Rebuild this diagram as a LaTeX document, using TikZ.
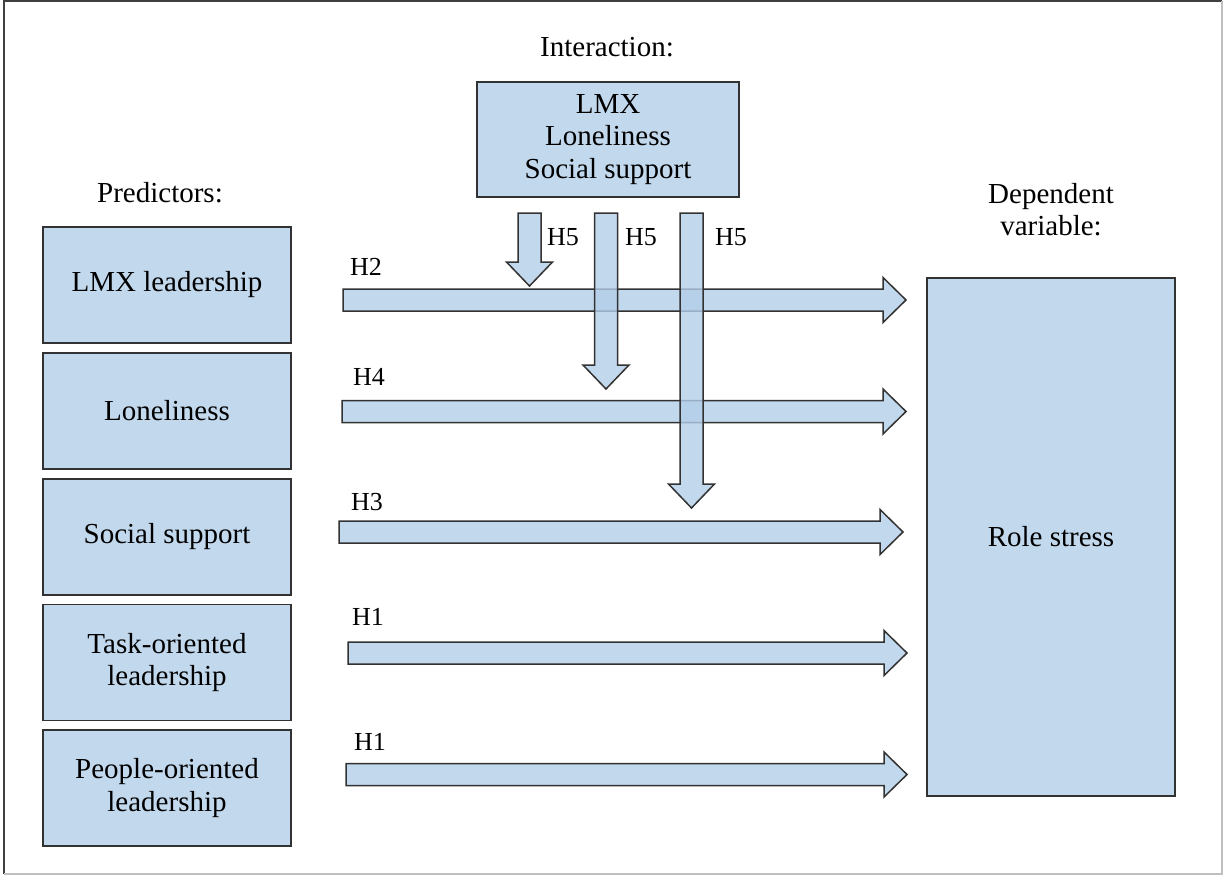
\documentclass[tikz,border=0pt]{standalone}
\usepackage{fontspec}
\setmainfont{Liberation Serif}
\newfontfamily\timesfam{Liberation Serif}
\usetikzlibrary{calc}
\definecolor{boxfill}{RGB}{194,216,237}
\definecolor{arrfill}{RGB}{179,206,233}
\definecolor{edgec}{RGB}{50,50,50}
\newcommand\fsmain{\timesfam\fontsize{29}{32.5}\selectfont}
\newcommand\fslabel{\timesfam\fontsize{26}{30}\selectfont}
\newcommand\hblockarrow[2]{\path[barrow] let \p1=(#1), \p2=(#2) in
  (\x1,\y1+11pt) -- (\x2-23pt,\y1+11pt) -- (\x2-23pt,\y1+22.5pt) -- (\x2,\y1)
  -- (\x2-23pt,\y1-22.5pt) -- (\x2-23pt,\y1-11pt) -- (\x1,\y1-11pt) -- cycle;}
\newcommand\vblockarrow[2]{\path[barrow] let \p1=(#1), \p2=(#2) in
  (\x1-11.5pt,\y1) -- (\x1-11.5pt,\y2+24pt) -- (\x1-23pt,\y2+24pt) -- (\x2,\y2)
  -- (\x1+23pt,\y2+24pt) -- (\x1+11.5pt,\y2+24pt) -- (\x1+11.5pt,\y1) -- cycle;}
\begin{document}
\begin{tikzpicture}[x=1pt,y=-1pt,
  box/.style={draw=edgec, line width=1.5pt, fill=boxfill, align=center, inner sep=0pt, font=\fsmain},
  predbox/.style={box, minimum width=248, minimum height=116},
  lbl/.style={font=\fsmain, inner sep=0pt, align=center},
  hlbl/.style={font=\fslabel, inner sep=0pt, anchor=base west},
  barrow/.style={draw=edgec, line width=1.5pt, fill=arrfill, fill opacity=0.8, line join=miter}]
\useasboundingbox (0,0) rectangle (1223,875);
% outer frame
\draw[black!75, line width=1.5pt] (4,874) -- (4,1) -- (1222,1);
\draw[black!25, line width=1.5pt] (1222,1) -- (1222,874) -- (4,874);

% headings
\node[lbl, anchor=base] (hpred) at (160,202) {Predictors:};
\node[lbl, anchor=base] (hint) at (607,57) {Interaction:};
\node[lbl, anchor=north] (hdep) at (1051,183) {Dependent\\variable:};

% predictor boxes
\node[predbox] (lmx) at (167,285) {LMX leadership};
\node[predbox] (lon) at (167,411) {Loneliness};
\node[predbox] (soc) at (167,537) {Social support};
\node[predbox] (task) at (167,662.5) {Task-oriented\\leadership};
\node[predbox] (peop) at (167,788) {People-oriented\\leadership};

% interaction box
\node[box, minimum width=262, minimum height=115] (inter) at (608,139.5) {LMX\\Loneliness\\Social support};

% dependent box
\node[box, minimum width=248, minimum height=518] (role) at (1051,537) {Role stress};

% horizontal arrow coordinates
\coordinate (h2s) at (343,300);   \coordinate (h2e) at (906,300);
\coordinate (h4s) at (342,411.5); \coordinate (h4e) at (906,411.5);
\coordinate (h3s) at (339,532);   \coordinate (h3e) at (903,532);
\coordinate (h1as) at (348,653);  \coordinate (h1ae) at (907,653);
\coordinate (h1bs) at (346,774.5);\coordinate (h1be) at (907,774.5);

\hblockarrow{h2s}{h2e}
\hblockarrow{h4s}{h4e}
\hblockarrow{h3s}{h3e}
\hblockarrow{h1as}{h1ae}
\hblockarrow{h1bs}{h1be}

% vertical arrows
\coordinate (v1s) at (529.5,213); \coordinate (v1e) at (529.5,286);
\coordinate (v2s) at (606,213);   \coordinate (v2e) at (606,389);
\coordinate (v3s) at (691.5,213); \coordinate (v3e) at (691.5,508);
\vblockarrow{v1s}{v1e}
\vblockarrow{v2s}{v2e}
\vblockarrow{v3s}{v3e}

% hypothesis labels
\node[hlbl] (lh2) at (350,275) {H2};
\node[hlbl] (lh4) at (353,385) {H4};
\node[hlbl] (lh3) at (351,510) {H3};
\node[hlbl] (lh1a) at (352,625) {H1};
\node[hlbl] (lh1b) at (354,750) {H1};
\node[hlbl] (lh5a) at (547,245) {H5};
\node[hlbl] (lh5b) at (625,245) {H5};
\node[hlbl] (lh5c) at (715,245) {H5};
\end{tikzpicture}
\end{document}
